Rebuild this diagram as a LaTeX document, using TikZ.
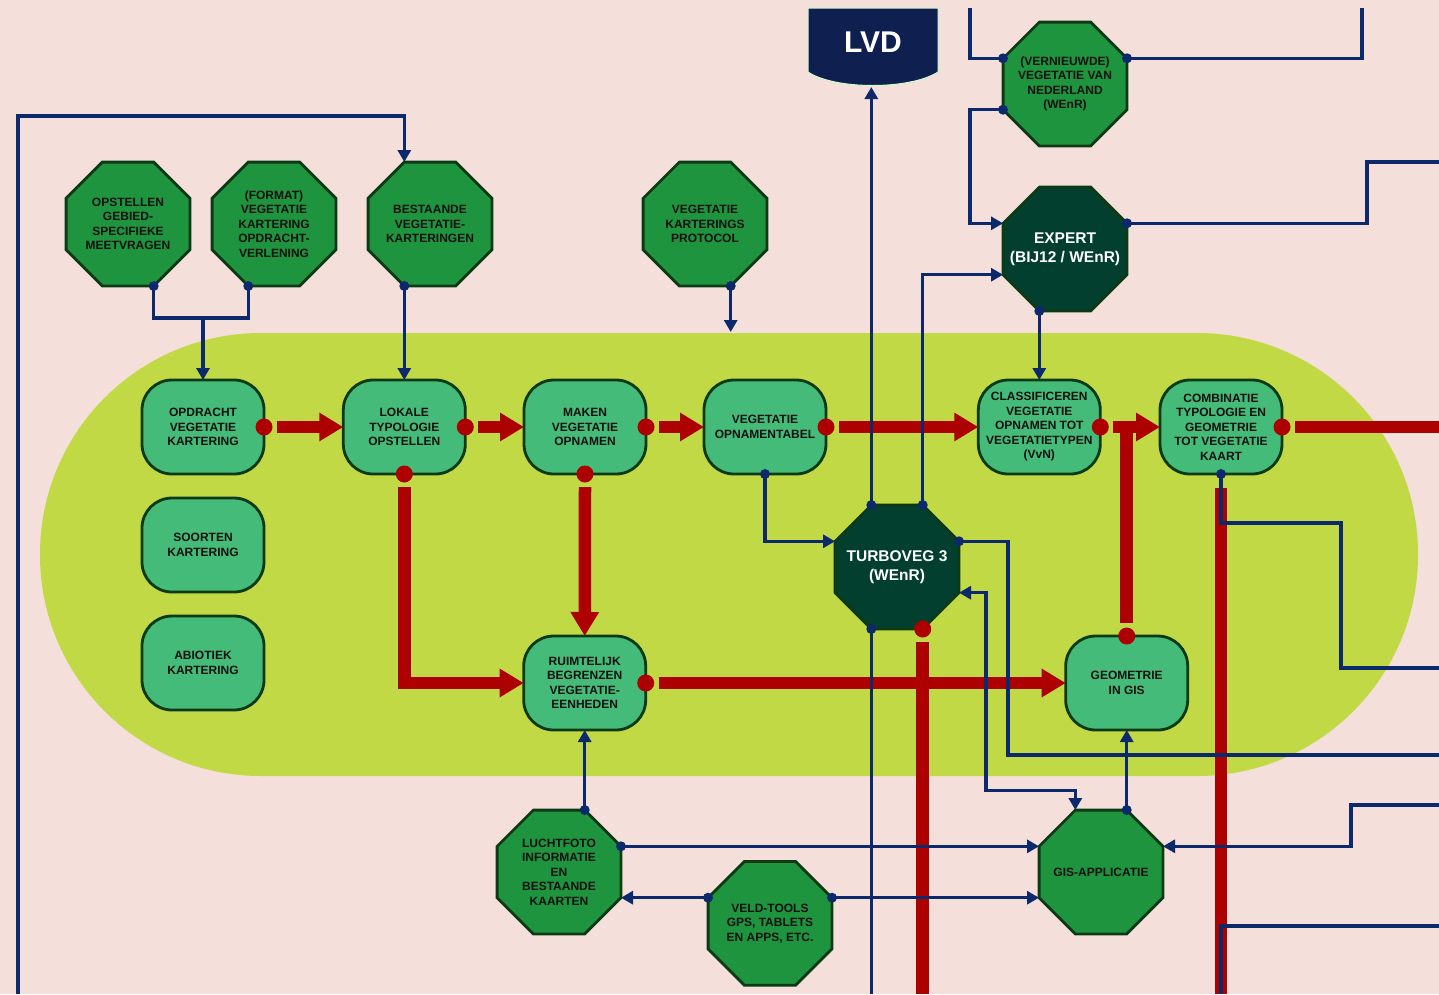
\documentclass[tikz,border=0pt]{standalone}
\usepackage{fontspec}
\setmainfont{Liberation Sans}
\usetikzlibrary{shapes.geometric,arrows.meta,calc}
\definecolor{bgpink}{HTML}{F4DFDA}
\definecolor{stadium}{HTML}{C0D944}
\definecolor{boxgreen}{HTML}{45BB7A}
\definecolor{dkgreen}{HTML}{0D3A14}
\definecolor{octgreen}{HTML}{1F943F}
\definecolor{octdark}{HTML}{033F2F}
\definecolor{navy}{HTML}{0C2A6B}
\definecolor{lvdnavy}{HTML}{0F1F4F}
\definecolor{flowred}{HTML}{AD0000}
\definecolor{txt}{HTML}{111111}
\newcommand\vkfont{\fontsize{12}{14.5}\selectfont\bfseries}
\newcommand\vkbig{\fontsize{15.5}{19}\selectfont\bfseries}
\begin{document}
\begin{tikzpicture}[x=1pt,y=-1pt,
 proc/.style={draw=dkgreen, line width=2.8pt, fill=boxgreen, rounded corners=30pt, minimum width=122pt, minimum height=94pt, align=center, font=\vkfont, inner sep=0pt, outer sep=0pt, text=txt},
 octa/.style={draw=dkgreen, line width=2.8pt, fill=octgreen, regular polygon, regular polygon sides=8, minimum size=134pt, inner sep=-25pt, outer sep=0pt, align=center, font=\vkfont, text=txt},
 octadark/.style={octa, fill=octdark, text=white, font=\vkbig},
 flow/.style={draw=flowred, line width=12.5pt, -{Triangle[length=24pt,width=27pt]}},
 flowline/.style={draw=flowred, line width=12.5pt},
 link/.style={draw=navy, line width=3.2pt},
 linkar/.style={link, -{Triangle[length=12pt,width=13pt]}},
 linkbi/.style={link, {Triangle[length=12pt,width=13pt]}-{Triangle[length=12pt,width=13pt]}},
 ndot/.style={fill=navy},
 rdot/.style={fill=flowred}]
\useasboundingbox (0,0) rectangle (1439,994);
\fill[bgpink] (0,0) rectangle (1439,994);
\fill[stadium, rounded corners=221pt] (40,333) rectangle (1418,776);

% LVD
\fill[lvdnavy, draw=white!80!green, line width=1pt] (808,8) -- (808,72) .. controls (835,90) and (910,90) .. (938,72) -- (938,8) -- cycle;
\node[text=white, font=\fontsize{30}{36}\selectfont\bfseries] (lvd) at (873,42) {LVD};
\coordinate (lvdb) at (871.3,87);

% process boxes
\node[proc] (b1) at (203,427) {OPDRACHT\\VEGETATIE\\KARTERING};
\node[proc] (b2) at (404.3,427) {LOKALE\\TYPOLOGIE\\OPSTELLEN};
\node[proc] (b3) at (585,427) {MAKEN\\VEGETATIE\\OPNAMEN};
\node[proc] (b4) at (765,427) {VEGETATIE\\OPNAMENTABEL};
\node[proc] (b5) at (1039.3,427) {CLASSIFICEREN\\VEGETATIE\\OPNAMEN TOT\\VEGETATIETYPEN\\(VvN)};
\node[proc] (b6) at (1221,427) {COMBINATIE\\TYPOLOGIE EN\\GEOMETRIE\\TOT VEGETATIE\\KAART};
\node[proc] (b7) at (203,545) {SOORTEN\\KARTERING};
\node[proc] (b8) at (203,663) {ABIOTIEK\\KARTERING};
\node[proc] (b9) at (584.7,683) {RUIMTELIJK\\BEGRENZEN\\VEGETATIE-\\EENHEDEN};
\node[proc] (b10) at (1126.7,683) {GEOMETRIE\\IN GIS};

% octagons
\node[octa] (o1) at (128,224) {OPSTELLEN\\GEBIED-\\SPECIFIEKE\\MEETVRAGEN};
\node[octa] (o2) at (274,224) {(FORMAT)\\VEGETATIE\\KARTERING\\OPDRACHT-\\VERLENING};
\node[octa] (o3) at (430,224) {BESTAANDE\\VEGETATIE-\\KARTERINGEN};
\node[octa] (o4) at (705,224) {VEGETATIE\\KARTERINGS\\PROTOCOL};
\node[octa] (o5) at (1065,84) {(VERNIEUWDE)\\VEGETATIE VAN\\NEDERLAND\\(WEnR)};
\node[octadark] (o6) at (1065,249) {EXPERT\\(BIJ12 / WEnR)};
\node[octadark] (o7) at (897,567) {TURBOVEG 3\\(WEnR)};
\node[octa] (o8) at (559,872) {LUCHTFOTO\\INFORMATIE\\EN\\BESTAANDE\\KAARTEN};
\node[octa] (o9) at (770,923.4) {VELD-TOOLS\\GPS, TABLETS\\EN APPS, ETC.};
\node[octa] (o10) at (1101,872) {GIS-APPLICATIE};

% free ends
\coordinate (eR) at (1439,427);
\coordinate (eB1) at (922.7,994);
\coordinate (eB2) at (1221,994);
\coordinate (j1) at (203,318);
\coordinate (lb) at (18,994);
\coordinate (lt) at (18,116);
\coordinate (p4) at (730.7,332);
\coordinate (t1) at (970,8);
\coordinate (t2) at (1362,8);
\coordinate (t3) at (1439,162);
\coordinate (t4) at (1439,755);
\coordinate (t5) at (1439,668);
\coordinate (t6) at (1439,805);
\coordinate (t7) at (1439,926);
\coordinate (t8) at (1221,994);
\coordinate (t9) at (871.3,994);

% red flows
\draw[flow] ([xshift=13pt]b1.east) -- (b2.west);
\draw[flow] ([xshift=13pt]b2.east) -- (b3.west);
\draw[flow] ([xshift=13pt]b3.east) -- (b4.west);
\draw[flow] ([xshift=13pt]b4.east) -- (b5.west);
\draw[flow] ([xshift=13pt]b5.east) -- (b6.west);
\draw[flowline] ([yshift=13pt]b10.north) -- ($(b10.north |- b5.east)+(0,-6)$);
\draw[flowline] ([xshift=13pt]b6.east) -- (eR);
\draw[flow] ([yshift=-13pt]b2.south) |- (b9.west);
\draw[flow] ([yshift=-13pt]b3.south) -- (b9.north);
\draw[flow] ([xshift=13pt]b9.east) -- (b10.west);
\draw[flowline] ($(o7)+(25.7,75)$) -- (eB1);
\draw[flowline] ([yshift=-14pt]b6.south) -- (eB2);

% navy connectors
\draw[link] ($(o1)+(25.7,62)$) |- (j1) -| ($(o2)+(-25.7,62)$);
\draw[linkar] (j1) -- (b1.north);
\draw[linkar] (lb) -- (lt) -| ($(o3)+(-25.7,-62)$);
\draw[linkar] ($(o3)+(-25.7,62)$) -- (b2.north);
\draw[linkar] ($(o4)+(25.7,62)$) -- (p4);
\draw[linkar] ($(o7)+(-25.7,-62)$) -- (lvdb);
\draw[linkar] ($(o7)+(25.7,-62)$) |- ($(o6)+(-62,25.7)$);
\draw[link] ($(o5)+(-62,-25.7)$) -| (t1);
\draw[linkar] ($(o5)+(-62,25.7)$) -- ++(-33,0) |- ($(o6)+(-62,-25.7)$);
\draw[link] ($(o5)+(62,-25.7)$) -| (t2);
\draw[link] ($(o6)+(62,-25.7)$) -- ++(240,0) |- (t3);
\draw[linkar] ($(o6)+(-25.7,62)$) -- (b5.north);
\draw[linkar] (b4.south) |- ($(o7)+(-62,-25.7)$);
\draw[link] ($(o7)+(62,-25.7)$) -- ++(49,0) |- (t4);
\draw[linkbi] ($(o7)+(62,25.7)$) -- ++(27,0) -- ++(0,198) -| ($(o10)+(-25.7,-62)$);
\draw[linkar] ($(o10)+(25.7,-62)$) -- (b10.south);
\draw[link] (b6.south) -- ++(0,49) -- ++(120,0) |- (t5);
\draw[linkar] (t6) -- ++(-88,0) |- ($(o10)+(62,-25.7)$);
\draw[link] (t7) -| (t8);
\draw[linkar] ($(o8)+(25.7,-62)$) -- (b9.south);
\draw[linkar] ($(o8)+(62,-25.7)$) -- ($(o10)+(-62,-25.7)$);
\draw[linkar] ($(o9)+(-62,-25.7)$) -- ($(o8)+(62,25.7)$);
\draw[linkar] ($(o9)+(62,-25.7)$) -- ($(o10)+(-62,25.7)$);
\draw[link] ($(o7)+(-25.7,62)$) -- (t9);

% red dots
\foreach \p in {b1.east,b2.east,b2.south,b3.east,b3.south,b4.east,b5.east,b6.east,b9.east,b10.north}
  \fill[rdot] (\p) circle (8.5pt);
\fill[rdot] ($(o7)+(25.7,62)$) circle (8.5pt);

% navy dots
\foreach \p in {b4.south,b6.south}
  \fill[ndot] (\p) circle (5pt);
\fill[ndot] ($(o1)+(25.7,62)$) circle (5pt);
\fill[ndot] ($(o2)+(-25.7,62)$) circle (5pt);
\fill[ndot] ($(o3)+(-25.7,62)$) circle (5pt);
\fill[ndot] ($(o4)+(25.7,62)$) circle (5pt);
\fill[ndot] ($(o7)+(-25.7,-62)$) circle (5pt);
\fill[ndot] ($(o7)+(25.7,-62)$) circle (5pt);
\fill[ndot] ($(o7)+(-25.7,62)$) circle (5pt);
\fill[ndot] ($(o7)+(62,-25.7)$) circle (5pt);
\fill[ndot] ($(o5)+(-62,-25.7)$) circle (5pt);
\fill[ndot] ($(o5)+(-62,25.7)$) circle (5pt);
\fill[ndot] ($(o5)+(62,-25.7)$) circle (5pt);
\fill[ndot] ($(o6)+(62,-25.7)$) circle (5pt);
\fill[ndot] ($(o6)+(-25.7,62)$) circle (5pt);
\fill[ndot] ($(o10)+(25.7,-62)$) circle (5pt);
\fill[ndot] ($(o8)+(25.7,-62)$) circle (5pt);
\fill[ndot] ($(o8)+(62,-25.7)$) circle (5pt);
\fill[ndot] ($(o9)+(-62,-25.7)$) circle (5pt);
\fill[ndot] ($(o9)+(62,-25.7)$) circle (5pt);
\end{tikzpicture}
\end{document}
